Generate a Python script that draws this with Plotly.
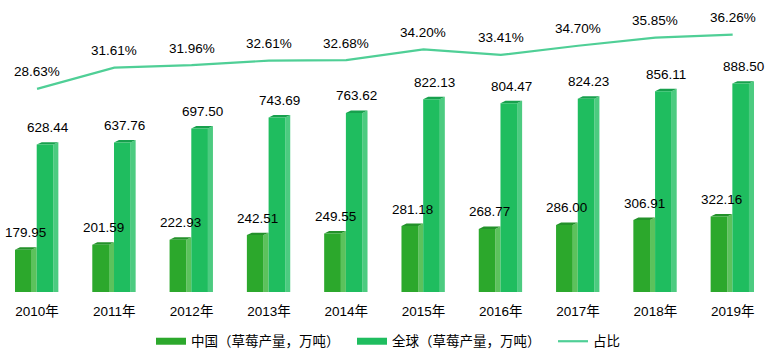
import plotly.graph_objects as go

years = ["2010年", "2011年", "2012年", "2013年", "2014年", "2015年", "2016年", "2017年", "2018年", "2019年"]
china = [179.95, 201.59, 222.93, 242.51, 249.55, 281.18, 268.77, 286.00, 306.91, 322.16]
world = [628.44, 637.76, 697.50, 743.69, 763.62, 822.13, 804.47, 824.23, 856.11, 888.50]
share = [28.63, 31.61, 31.96, 32.61, 32.68, 34.20, 33.41, 34.70, 35.85, 36.26]

names = ["中国（草莓产量，万吨）", "全球（草莓产量，万吨）", "占比"]

# styling / geometry (category units and y1 units)
Y1_MAX = 1198
Y2_MAX = 39.6
DX = 0.065      # depth of 3D side in category units
DY = 10.5       # depth rise in y1 units
series = [
    dict(vals=china, left=-0.285, right=-0.069,
         front="#2ca82c", side="#5cc25c", top="#23912a"),
    dict(vals=world, left=-0.004, right=0.211,
         front="#1fbd5f", side="#4ccb80", top="#17a04d"),
]
LINE_COLOR = "#4fcf96"
TEXT_COLOR = "#000000"
NUM_FONT = "Liberation Sans, Arial, Noto Sans CJK SC, sans-serif"
CJK_FONT = "Noto Sans CJK SC, Liberation Sans, sans-serif"

fig = go.Figure()

xs = list(range(len(years)))
for s in series:
    for i, v in zip(xs, s["vals"]):
        xl, xr = i + s["left"], i + s["right"]
        # side face
        fig.add_trace(go.Scatter(
            x=[xr, xr + DX, xr + DX, xr, xr], y=[0, 0, v + DY, v, 0],
            mode="lines", fill="toself", fillcolor=s["side"], line=dict(width=0),
            hoverinfo="skip", showlegend=False))
        # top face
        fig.add_trace(go.Scatter(
            x=[xl, xl + DX, xr + DX, xr, xl], y=[v, v + DY, v + DY, v, v],
            mode="lines", fill="toself", fillcolor=s["top"], line=dict(width=0),
            hoverinfo="skip", showlegend=False))
        # front face
        fig.add_trace(go.Scatter(
            x=[xl, xr, xr, xl, xl], y=[0, 0, v, v, 0],
            mode="lines", fill="toself", fillcolor=s["front"], line=dict(width=0),
            hoverinfo="skip", showlegend=False))
    for i, v in zip(xs, s["vals"]):
        fig.add_annotation(x=i + (s["left"] + s["right"] + DX) / 2, y=v, text=f"{v:.2f}",
                           showarrow=False, yanchor="middle", yshift=17,
                           font=dict(size=13.5, color=TEXT_COLOR, family=NUM_FONT))

# legend proxies for bars
for s, nm in zip(series, names[:2]):
    fig.add_trace(go.Scatter(x=[None], y=[None], mode="lines", name=nm,
                             line=dict(color=s["front"], width=7)))

fig.add_trace(go.Scatter(x=xs, y=share, yaxis="y2", mode="lines", name=names[2],
                         line=dict(color=LINE_COLOR, width=2.2)))
for i, v in zip(xs, share):
    fig.add_annotation(x=i, y=v, yref="y2", text=f"{v:.2f}%", showarrow=False,
                       yanchor="middle", yshift=17,
                       font=dict(size=13.5, color=TEXT_COLOR, family=NUM_FONT))

fig.update_layout(
    width=769, height=351,
    margin=dict(l=0, r=0, t=11, b=59, autoexpand=False),
    paper_bgcolor="white", plot_bgcolor="white",
    font=dict(family=NUM_FONT, size=13, color=TEXT_COLOR),
    xaxis=dict(range=[-0.479, 9.47], tickmode="array", tickvals=xs, ticktext=years,
               showgrid=False, zeroline=False, showline=False, ticks="",
               tickfont=dict(size=13.5, color=TEXT_COLOR, family=NUM_FONT),
               ticklabelstandoff=9, automargin=False),
    yaxis=dict(range=[0, Y1_MAX], visible=False, showgrid=False, zeroline=False,
               automargin=False),
    yaxis2=dict(range=[0, Y2_MAX], overlaying="y", side="right", visible=False,
                showgrid=False, zeroline=False, automargin=False),
    legend=dict(orientation="h", x=151 / 769, xanchor="left", y=-0.176, yanchor="middle",
                font=dict(size=13.5, color=TEXT_COLOR, family=CJK_FONT),
                itemwidth=30, entrywidth=156, entrywidthmode="pixels",
                bgcolor="rgba(0,0,0,0)"),
    showlegend=True,
)

fig.write_html("out.html")
